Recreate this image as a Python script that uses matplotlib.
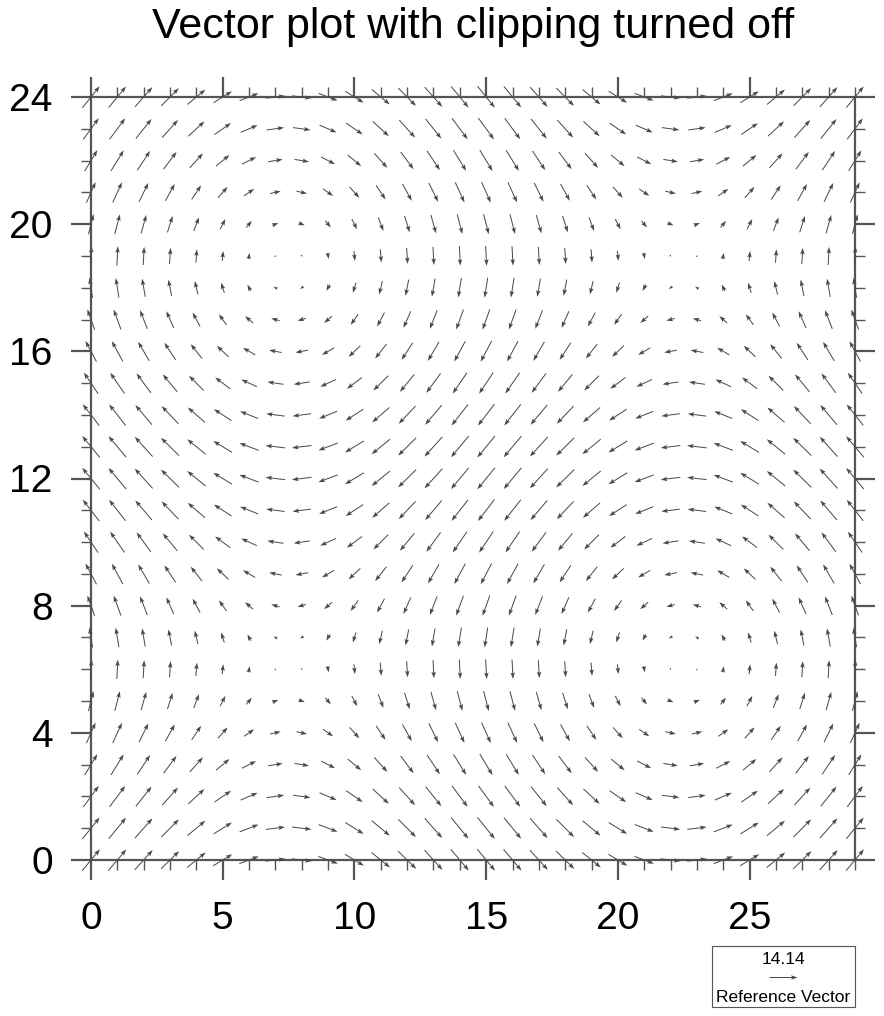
import numpy as np
import matplotlib
matplotlib.use("Agg")
import matplotlib.pyplot as plt
from matplotlib.ticker import MultipleLocator
from matplotlib.patches import Rectangle

plt.rcParams['font.family'] = ['Liberation Sans', 'DejaVu Sans']

# ---- data ----
x_vals = list(range(30))          # grid columns 0..29
y_vals = list(range(25))          # grid rows 0..24
# u component (same along each row), read per row y = 0..24
u_by_row = [10.0, 9.7, 8.8, 7.3, 5.4, 3.1, 0.6, -1.9, -4.3, -6.4, -8.1, -9.3, -9.9,
            -9.9, -9.3, -8.1, -6.4, -4.3, -1.9, 0.6, 3.1, 5.4, 7.3, 8.8, 9.7]
# v component (same along each column), read per column x = 0..29
v_by_col = [10.0, 9.8, 9.1, 8.1, 6.7, 5.0, 3.1, 1.0, -1.0, -3.1, -5.0, -6.7, -8.1, -9.1, -9.8,
            -10.0, -9.8, -9.1, -8.1, -6.7, -5.0, -3.1, -1.0, 1.0, 3.1, 5.0, 6.7, 8.1, 9.1, 9.8]
ref_magnitude = 14.14
title = "Vector plot with clipping turned off"
x_major = [0, 5, 10, 15, 20, 25]
y_major = [0, 4, 8, 12, 16, 20, 24]

X, Y = np.meshgrid(np.array(x_vals, float), np.array(y_vals, float))
U = np.array(u_by_row)[:, None] * np.ones((1, len(x_vals)))
V = np.ones((len(y_vals), 1)) * np.array(v_by_col)[None, :]

W, H = 884, 1016
fig = plt.figure(figsize=(W / 100, H / 100), dpi=100)
ax = fig.add_axes([91 / W, 1 - 860 / H, 764 / W, 763 / H])
ax.set_xlim(0, 29)
ax.set_ylim(0, 24)

arrow_col = '#4a4a4a'
scale = ref_magnitude / 28.0   # data units per pixel
q = ax.quiver(X, Y, U, V, pivot='middle', angles='xy', scale_units='dots', scale=scale,
              units='dots', width=1.0, headwidth=4.5, headlength=6.5, headaxislength=5.5,
              minlength=0.5, color=arrow_col, zorder=3)
q.set_clip_on(False)

spine_col = '#555555'
for s in ax.spines.values():
    s.set_color(spine_col)
    s.set_linewidth(1.6)

ax.xaxis.set_major_locator(plt.FixedLocator(x_major))
ax.yaxis.set_major_locator(plt.FixedLocator(y_major))
ax.xaxis.set_minor_locator(MultipleLocator(1))
ax.yaxis.set_minor_locator(MultipleLocator(1))
ax.tick_params(which='both', direction='out', top=True, right=True,
               labeltop=False, labelright=False, color=spine_col)
ax.tick_params(which='major', length=14.5, width=1.6, labelsize=28)
ax.tick_params(axis='x', which='major', pad=15)
ax.tick_params(axis='y', which='major', pad=13)
ax.tick_params(which='minor', length=7.2, width=1.0)

fig.text(473 / W, 1 - 27 / H, title, ha='center', va='center', fontsize=31)

# reference vector annotation
fig.patches.append(Rectangle((712 / W, 1 - 1007 / H), 143 / W, 61 / H,
                             transform=fig.transFigure, fill=False,
                             edgecolor='#555555', linewidth=0.8))
qk = ax.quiverkey(q, 783 / W, 1 - 977 / H, ref_magnitude, "%.2f" % ref_magnitude,
                  coordinates='figure', labelpos='N', labelsep=0.1,
                  fontproperties={'size': 12.5}, color=arrow_col)
fig.text(783 / W, 1 - 997 / H, "Reference Vector", ha='center', va='center', fontsize=12.5)

fig.savefig("out.png", dpi=100)
